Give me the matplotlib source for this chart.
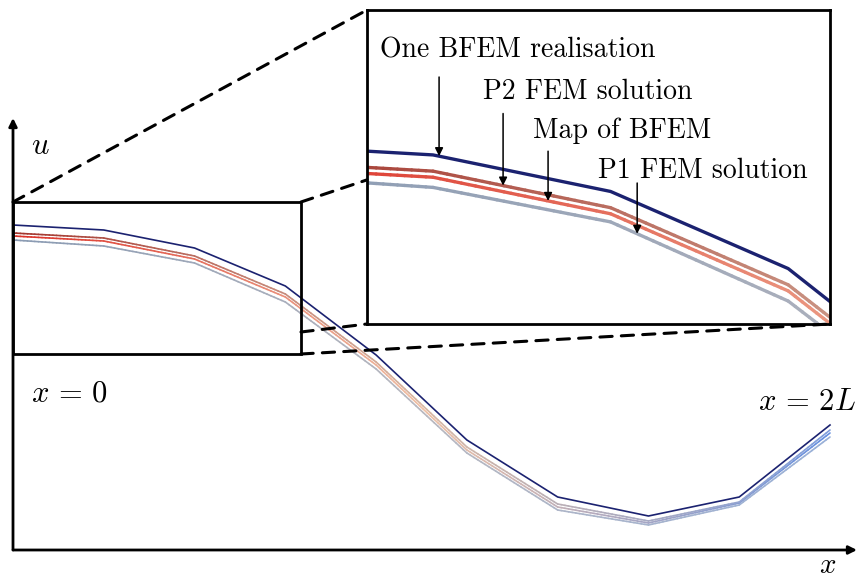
import numpy as np
import matplotlib
matplotlib.use('Agg')
import matplotlib.pyplot as plt
from matplotlib.collections import LineCollection
from matplotlib.colors import LinearSegmentedColormap
from matplotlib.patches import Rectangle, ConnectionPatch

plt.rcParams['mathtext.fontset'] = 'cm'

# nodes along the beam, x in units of L (x = 0 ... 2L)
x_nodes = [0.0, 0.2222, 0.4444, 0.6667, 0.8889, 1.1111, 1.3333, 1.5556, 1.7778, 2.0]
# displacement u at the nodes (arbitrary units)
u_bfem_real = [3.25, 3.20, 3.02, 2.64, 1.95, 1.10, 0.53, 0.34, 0.53, 1.25]
u_p2_fem    = [3.17, 3.12, 2.94, 2.56, 1.88, 1.03, 0.46, 0.29, 0.48, 1.20]
u_map_bfem  = [3.14, 3.09, 2.91, 2.53, 1.85, 1.00, 0.43, 0.27, 0.47, 1.17]
u_p1_fem    = [3.10, 3.04, 2.87, 2.48, 1.81, 0.97, 0.40, 0.25, 0.45, 1.13]

labels = ['One BFEM realisation', 'P2 FEM solution', 'Map of BFEM', 'P1 FEM solution']

cmap_p2  = LinearSegmentedColormap.from_list('p2',  ['#a3342c', '#d8b8a4', '#7f9edc'])
cmap_map = LinearSegmentedColormap.from_list('map', ['#dc3128', '#f0c0a4', '#6690e0'])
cmap_p1  = LinearSegmentedColormap.from_list('p1',  ['#8a9bb3', '#b8b8c0', '#98b0d8'])
navy = '#1b2270'


def grad_line(ax, x, y, cmap, lw):
    # split each segment into small pieces so the colour runs along x
    xs = np.concatenate([np.linspace(x[i], x[i+1], 25, endpoint=False) for i in range(len(x)-1)] + [[x[-1]]])
    ys = np.interp(xs, x, y)
    pts = np.array([xs, ys]).T.reshape(-1, 1, 2)
    segs = np.concatenate([pts[:-1], pts[1:]], axis=1)
    lc = LineCollection(segs, colors=cmap(xs[:-1]/x[-1]), linewidth=lw, capstyle='round')
    ax.add_collection(lc)


def draw_curves(ax, lw):
    grad_line(ax, x_nodes, u_p1_fem, cmap_p1, lw)
    grad_line(ax, x_nodes, u_map_bfem, cmap_map, lw)
    grad_line(ax, x_nodes, u_p2_fem, cmap_p2, lw)
    ax.plot(x_nodes, u_bfem_real, color=navy, lw=lw)


W, H = 858, 581
fig = plt.figure(figsize=(W/100, H/100), dpi=100)

############################################
# main axes
############################################
ax = fig.add_axes([13/W, (H-550)/H, (857-13)/W, (550-118)/H])
ax.set_xlim(0, 844/408.5)
ax.set_ylim(0, 4.32)
ax.axis('off')
draw_curves(ax, 1.2)

arr = dict(arrowstyle='-|>', lw=2, color='k', mutation_scale=12, shrinkA=0, shrinkB=0)
ax.annotate('', xy=(1, 0), xytext=(0, 0), xycoords='axes fraction', arrowprops=arr)
ax.annotate('', xy=(0, 1), xytext=(0, 0), xycoords='axes fraction', arrowprops=arr)

ax.text(0.066, 4.05, '$u$', fontsize=22, ha='center', va='center')
ax.text(0.044, 1.57, '$x\\,=\\,0$', fontsize=22, ha='left', va='center')
ax.text(1.824, 1.48, '$x\\,=\\,2L$', fontsize=22, ha='left', va='center', clip_on=False)
ax.text(1.995, -0.15, '$x$', fontsize=21, ha='center', va='center', clip_on=False)

# zoom window
zx0, zx1, zy0, zy1 = 0.0, 0.705, 1.96, 3.48
ax.add_patch(Rectangle((zx0, zy0), zx1-zx0, zy1-zy0, fill=False, lw=2, ec='k', zorder=5))

############################################
# inset
############################################
ax_in = fig.add_axes([367/W, (H-324)/H, (830-367)/W, (324-10)/H])
ax_in.set_xlim(0.1396, 0.719)
ax_in.set_ylim(2.367, 3.914)
ax_in.set_xticks([]); ax_in.set_yticks([])
for s in ax_in.spines.values():
    s.set_linewidth(2)
draw_curves(ax_in, 2.4)

txt_pos = [(0.028, 0.873), (0.251, 0.739), (0.359, 0.615), (0.499, 0.487)]
arrow_x = [0.2298, 0.3099, 0.3662, 0.4777]
arrow_len = [0.39, 0.355, 0.245, 0.25]
curves = [u_bfem_real, u_p2_fem, u_map_bfem, u_p1_fem]
for lab, (tx, ty), xa, L, cu in zip(labels, txt_pos, arrow_x, arrow_len, curves):
    ax_in.text(tx, ty, lab, transform=ax_in.transAxes, fontsize=20,
               family='cmr10', ha='left', va='center')
    ya = np.interp(xa, x_nodes, cu)
    ax_in.annotate('', xy=(xa, ya), xytext=(xa, ya+L),
                   arrowprops=dict(arrowstyle='-|>', lw=1.1, color='k', mutation_scale=12,
                                   shrinkA=0, shrinkB=0))

# dashed connectors
links = [((zx0, zy1), (0, 1)), ((zx1, zy1), (0, 0.459)),
         ((zx1, 2.18), (0, 0)), ((zx1, zy0), (1, 0))]
for pa, pb in links:
    cp = ConnectionPatch(xyA=pa, coordsA=ax.transData, xyB=pb, coordsB=ax_in.transAxes,
                         ls=(0, (4, 3)), lw=2.2, color='k')
    fig.add_artist(cp)

fig.savefig('out.png', dpi=100)
